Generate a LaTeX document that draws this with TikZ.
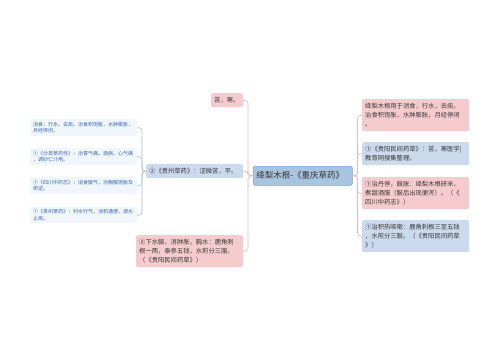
\documentclass[tikz,border=0pt]{standalone}
\usepackage{fontspec}
\setmainfont{Noto Sans CJK SC}
\definecolor{pinkf}{RGB}{246,203,206}
\definecolor{bluef}{RGB}{203,218,236}
\definecolor{leaff}{RGB}{241,246,252}
\definecolor{leaft}{RGB}{55,105,180}
\definecolor{centf}{RGB}{168,196,223}
\definecolor{centb}{RGB}{125,160,200}
\definecolor{txt}{RGB}{55,55,55}
\definecolor{pinkl}{RGB}{236,180,186}
\definecolor{bluel}{RGB}{172,196,226}
\tikzset{
 box/.style={rounded corners=1.5pt, inner xsep=3pt, inner ysep=1pt, align=left, anchor=north west, text=txt},
 pinkbox/.style={box, fill=pinkf},
 bluebox/.style={box, fill=bluef},
 leafbox/.style={box, fill=leaff, text=leaft, font=\fontsize{5}{6.7}\selectfont, text width=101pt, minimum height=17pt},
 mid/.style={font=\fontsize{6.3}{8.7}\selectfont},
 pinkline/.style={draw=pinkl, line width=0.6pt, rounded corners=3pt},
 blueline/.style={draw=bluel, line width=0.6pt, rounded corners=3pt},
}
\begin{document}
\begin{tikzpicture}[x=1pt,y=-1pt]
\fill[white] (0,0) rectangle (500,360);
\useasboundingbox (0,0) rectangle (500,360);
% center
\node[box, fill=centf, draw=centb, line width=0.5pt, text=black!80, font=\fontsize{8.5}{10}\selectfont, text width=93pt, minimum height=19pt] (c) at (253,166) {绛梨木根-《重庆草药》};
% left
\node[pinkbox, mid, text width=26pt, minimum height=14pt] (l1) at (211,93) {苦，寒。};
\node[bluebox, mid, text width=91pt, minimum height=14pt] (l2) at (146,164) {②《贵州草药》：涩微苦，平。};
\node[pinkbox, mid, text width=101pt, minimum height=32pt] (l3) at (136,235) {②下水臌，消肿胀，胸水：鹿角刺\\根一两，泰参五钱，水煎分三服。\\（《贵阳民间药草》）};
% leaves
\node[leafbox] (a1) at (30,119) {消食，行水，去痰。治食积饱胀，水肿膨胀，\\月经停闭。};
\node[leafbox] (a2) at (30,148) {①《分类草药性》：治胃气痛，酒病，心气痛\\，调砂仁汁用。};
\node[leafbox] (a3) at (30,177) {①《四川中药志》：消食散气，治胸膈饱胀及\\呃逆。};
\node[leafbox, minimum height=16pt] (a4) at (30,207) {①《贵州草药》：利水行气，消积通便，调水\\止痢。};
% right
\node[pinkbox, mid, text width=101pt, minimum height=32pt] (r1) at (362,99) {绛梨木根用于消食，行水，去痰。\\治食积饱胀，水肿膨胀，月经停闭\\。};
\node[bluebox, mid, text width=101pt, minimum height=23pt] (r2) at (362,142) {①《贵阳民间药草》：苦，寒医学|\\教育网搜集整理。};
\node[pinkbox, mid, text width=101pt, minimum height=32pt] (r3) at (362,177) {①治丹停，鼓胀：绛梨木根研末，\\煮甜酒服（服后出现便泻）。（《\\四川中药志》）};
\node[bluebox, mid, text width=101pt, minimum height=32pt] (r4) at (362,220) {①治积热咳嗽：鹿角刺根三至五钱\\，水煎分三服。（《贵阳民间药草\\》）};
% connectors
\foreach \n in {l1,l2,l3} \draw[pinkline] (c.west) -- ++(-5,0) |- (\n.east);
\foreach \n in {r1,r2,r3,r4} \draw[pinkline] (c.east) -- ++(5,0) |- (\n.west);
\foreach \n in {a1,a2,a3,a4} \draw[blueline] (l2.west) -- ++(-4,0) |- (\n.east);
\end{tikzpicture}
\end{document}
